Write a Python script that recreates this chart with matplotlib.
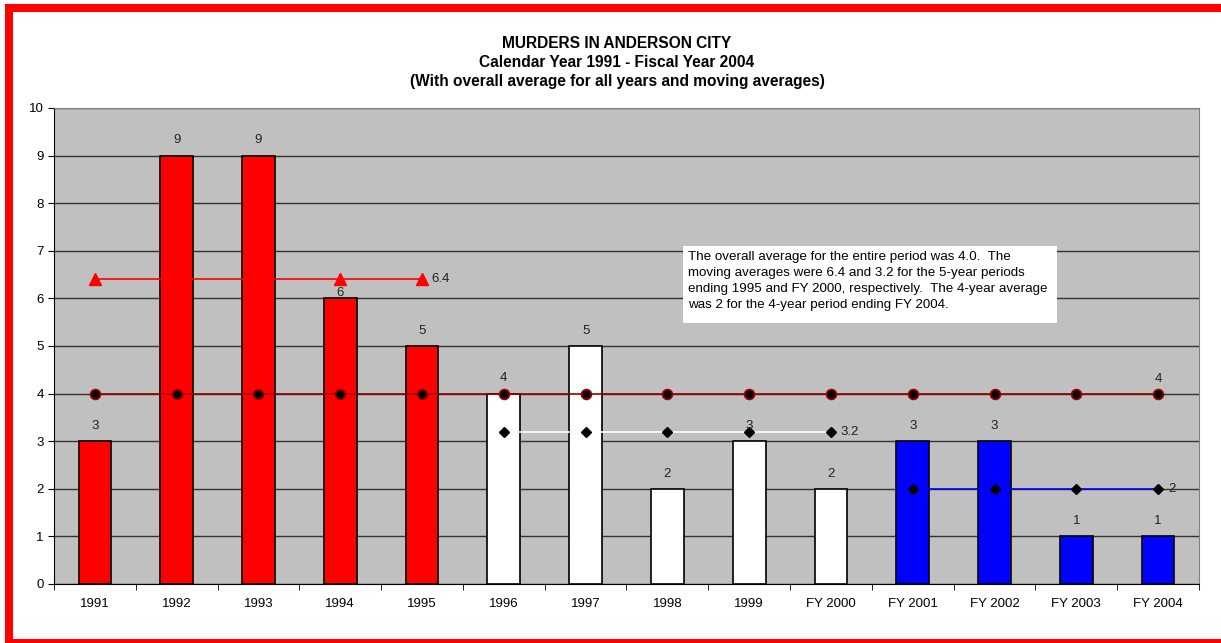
import matplotlib.pyplot as plt
import matplotlib.patches as patches
import numpy as np

plt.rcParams['font.family'] = ['Liberation Sans', 'DejaVu Sans']

# 数据
categories = ['1991', '1992', '1993', '1994', '1995', '1996', '1997', '1998', '1999',
              'FY 2000', 'FY 2001', 'FY 2002', 'FY 2003', 'FY 2004']
murders = [3, 9, 9, 6, 5, 4, 5, 2, 3, 2, 3, 3, 1, 1]
bar_colors = ['red'] * 5 + ['white'] * 5 + ['blue'] * 4
overall_avg = [4.0] * 14
ma_1995 = [6.4] * 5          # 1991-1995
ma_2000 = [3.2] * 5          # 1996-FY 2000
ma_2004 = [2.0] * 4          # FY 2001-FY 2004

title = ('MURDERS IN ANDERSON CITY\nCalendar Year 1991 - Fiscal Year 2004\n'
         '(With overall average for all years and moving averages)')
note = ('The overall average for the entire period was 4.0.  The\n'
        'moving averages were 6.4 and 3.2 for the 5-year periods\n'
        'ending 1995 and FY 2000, respectively.  The 4-year average\n'
        'was 2 for the 4-year period ending FY 2004.')

W, H = 1221, 643
fig = plt.figure(figsize=(W / 100, H / 100), dpi=100)
ax = fig.add_axes([54 / W, 1 - 584 / H, (1199 - 54) / W, (584 - 108) / H])
ax.set_facecolor('#c0c0c0')

x = np.arange(len(categories))
ax.bar(x, murders, width=0.4, color=bar_colors, edgecolor='black', linewidth=1.2, zorder=2)

# 柱顶数值
for i, v in enumerate(murders):
    off = 0.12 if categories[i] == '1994' else 0.32
    ax.text(i, v + off, str(v), ha='center', va='center', fontsize=9.5, color='#222222', zorder=5)

# 平均线
ax.plot(x, overall_avg, color='#990000', lw=1.2, marker='o', ms=7,
        mfc='black', mec='#990000', mew=1.3, zorder=3)
ax.text(x[-1], overall_avg[-1] + 0.3, '4', ha='center', va='center', fontsize=9.5, color='#222222')

ax.plot(x[:5], ma_1995, color='red', lw=1.2, marker='^', ms=8, mfc='red', mec='red', zorder=3)
ax.text(x[4] + 0.12, ma_1995[-1], '6.4', ha='left', va='center', fontsize=9.5, color='#222222')

ax.plot(x[5:10], ma_2000, color='white', lw=1.2, marker='D', ms=5, mfc='black', mec='black', zorder=3)
ax.text(x[9] + 0.12, ma_2000[-1], '3.2', ha='left', va='center', fontsize=9.5, color='#222222')

ax.plot(x[10:], ma_2004, color='blue', lw=1.2, marker='D', ms=5, mfc='black', mec='black', zorder=3)
ax.text(x[13] + 0.12, ma_2004[-1], '2', ha='left', va='center', fontsize=9.5, color='#222222')

ax.set_xlim(-0.5, len(categories) - 0.5)
ax.set_ylim(0, 10)
ax.set_yticks(range(11))
ax.yaxis.grid(True, color='#333333', lw=1)
ax.set_axisbelow(True)
ax.set_xticks(x)
ax.set_xticklabels(categories)
ax.set_xticks(np.arange(-0.5, len(categories)), minor=True)
ax.tick_params(axis='x', which='major', length=0, pad=10, labelsize=9.5)
ax.tick_params(axis='x', which='minor', length=4, direction='out', color='black')
ax.tick_params(axis='y', length=4, direction='out', labelsize=9.5)
for s in ['top', 'right']:
    ax.spines[s].set_color('#808080')
for s in ['left', 'bottom']:
    ax.spines[s].set_color('black')

fig.text(617 / W, 1 - 36 / H, title, ha='center', va='top', fontsize=11.2,
         fontweight='bold', linespacing=1.32)

# 说明文字框
fig.patches.append(patches.Rectangle((683 / W, 1 - 323 / H), (1057 - 683) / W, (323 - 246) / H,
                                     transform=fig.transFigure, facecolor='white',
                                     edgecolor='none', zorder=5))
fig.text(688 / W, 1 - 251 / H, note, ha='left', va='top', fontsize=9.6,
         linespacing=1.44, zorder=6)

# 红色边框（右侧与底部超出画面）
fig.patches.append(patches.Rectangle((9 / W, 0), 1230 / W, 635 / H,
                                     transform=fig.transFigure, fill=False,
                                     edgecolor='red', linewidth=5.8))

fig.savefig('out.png', dpi=100)
